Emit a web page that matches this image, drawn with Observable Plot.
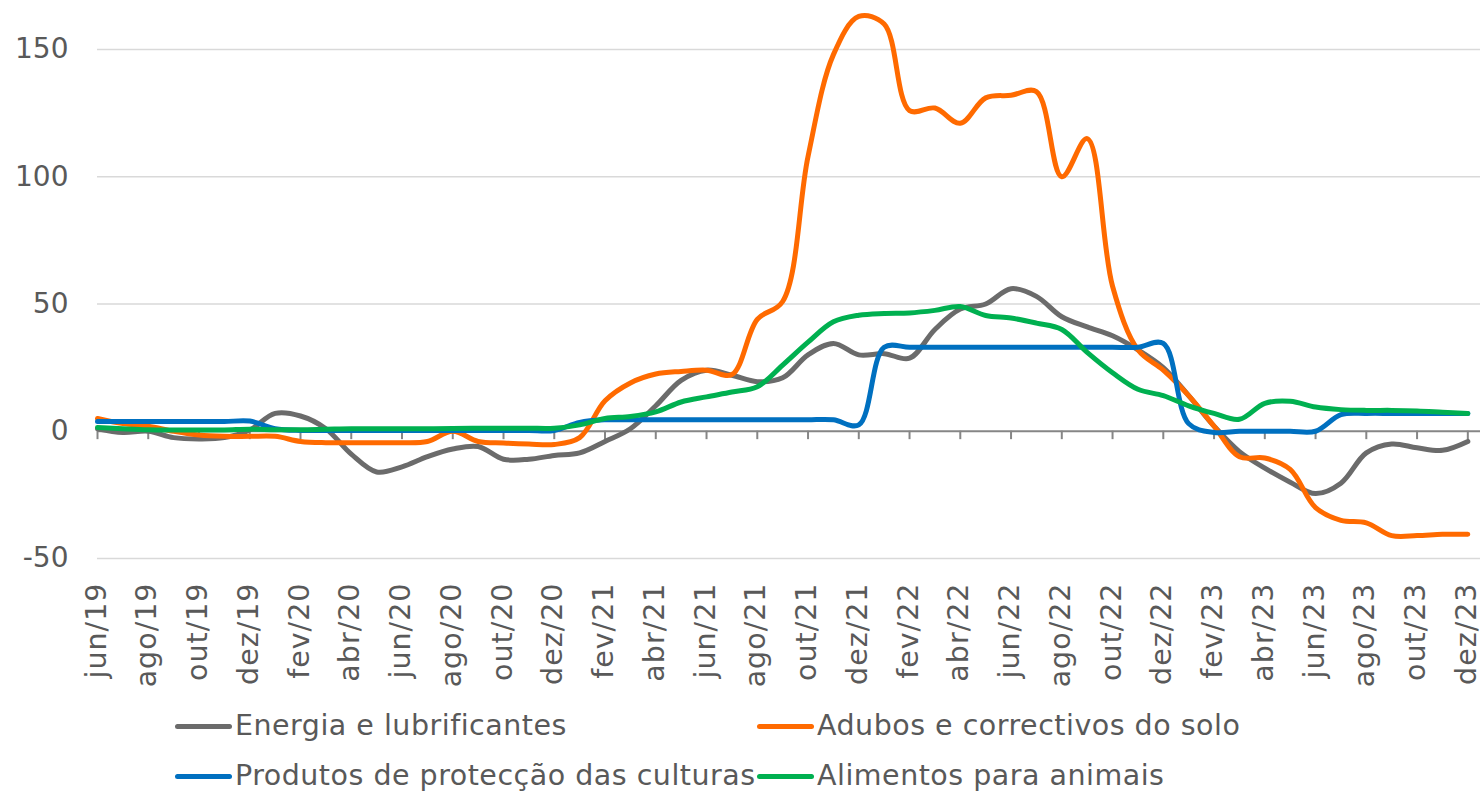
<!DOCTYPE html>
<html><head><meta charset="utf-8">
<script src="https://cdn.jsdelivr.net/npm/d3@7"></script>
<script src="https://cdn.jsdelivr.net/npm/@observablehq/plot@0.6"></script>
<style>
body{margin:0;background:#fff;}
#wrap{position:relative;width:1482px;height:793px;font-family:"DejaVu Sans",Verdana,sans-serif;color:#595959;overflow:hidden;}
#wrap svg{position:absolute;left:0;top:0;}
.leg{position:absolute;display:flex;align-items:center;font-size:28.5px;letter-spacing:0.5px;line-height:34px;white-space:nowrap;}
.sw{width:57px;height:5px;border-radius:3px;margin-right:3px;}
</style></head><body><div id="wrap"></div>
<script>
const months = ["jun/19","jul/19","ago/19","set/19","out/19","nov/19","dez/19",
  "jan/20","fev/20","mar/20","abr/20","mai/20","jun/20","jul/20","ago/20","set/20","out/20","nov/20","dez/20",
  "jan/21","fev/21","mar/21","abr/21","mai/21","jun/21","jul/21","ago/21","set/21","out/21","nov/21","dez/21",
  "jan/22","fev/22","mar/22","abr/22","mai/22","jun/22","jul/22","ago/22","set/22","out/22","nov/22","dez/22",
  "jan/23","fev/23","mar/23","abr/23","mai/23","jun/23","jul/23","ago/23","set/23","out/23","nov/23","dez/23"];
const tickLabels = months.filter((m, i) => i % 2 === 0);
const yTicks = [-50, 0, 50, 100, 150];

const energia = [1, -0.5, 0, -2.5, -3, -2.5, 0.5, 7, 6, 1, -9, -16, -14, -10, -7, -6, -11, -11, -9.5, -8.5,
  -4, 1, 10, 20, 24, 22, 19.5, 21, 30, 34.5, 30, 30.5, 28.7, 40, 48, 50, 56, 53, 45, 41,
  37.5, 32, 25, 14, 2, -8, -14.5, -20, -24.5, -20.4, -8.5, -5, -6.5, -7.5, -4];
const adubos = [5, 3, 2, 0, -1.5, -2, -2, -2, -4, -4.5, -4.5, -4.5, -4.5, -4, 0, -4, -4.6, -5, -5.2, -2.5,
  12, 19, 22.5, 23.5, 24, 22.3, 44, 51, 108, 148, 163, 160, 126, 127, 121, 131, 132, 133.5, 100, 115,
  57, 32, 24, 14, 2, -10, -10.5, -15, -30, -35, -36, -41, -41, -40.5, -40.5];
const produtos = [3.8, 3.8, 3.8, 3.8, 3.8, 3.8, 4, 1, 0.3, 0.3, 0.3, 0.3, 0.3, 0.3, 0.3, 0.3, 0.3, 0.3, 0.3, 3.5,
  4.5, 4.5, 4.5, 4.5, 4.5, 4.5, 4.5, 4.5, 4.5, 4.5, 2.5, 33, 33, 33, 33, 33, 33, 33, 33, 33,
  33, 33, 34.5, 3, -0.5, 0, 0, 0, 0, 6.5, 7, 7, 7, 7, 7];
const alimentos = [1.5, 1, 0.6, 0.5, 0.5, 0.5, 0.8, 0.6, 0.6, 0.8, 1, 1, 1, 1, 1.1, 1.2, 1.2, 1.2, 1.2, 2.5,
  5, 5.8, 7.6, 11.5, 13.5, 15.4, 17.5, 26, 35, 43, 45.6, 46.3, 46.5, 47.5, 49, 45.5, 44.5, 42.5, 40, 31,
  23, 16.5, 14, 10, 7, 4.7, 11, 11.8, 9.5, 8.5, 8.2, 8.2, 8, 7.5, 7];

const seriesNames = ["Energia e lubrificantes", "Adubos e correctivos do solo", "Produtos de protecção das culturas", "Alimentos para animais"];
const seriesValues = [energia, adubos, produtos, alimentos];
const seriesColors = ["#6b6b6b", "#ff6a00", "#0070c0", "#00b050"];

const tickIdx = tickLabels.map((_, k) => 2 * k);

const lineMarks = seriesValues.map((vals, s) =>
  Plot.line(vals.map((v, i) => ({i, v})), {
    x: "i", y: "v", stroke: seriesColors[s], strokeWidth: 5,
    curve: "catmull-rom", strokeLinecap: "round", strokeLinejoin: "round"
  }));

const chart = Plot.plot({
  width: 1482, height: 700,
  marginLeft: 97, marginRight: 2, marginTop: 5, marginBottom: 142,
  style: {fontFamily: "DejaVu Sans, Verdana, sans-serif", fontSize: "28px", color: "#595959", background: "transparent"},
  x: {domain: [0, 54.5], axis: null},
  y: {domain: [-50, 167.3], axis: null},
  marks: [
    Plot.ruleY(yTicks.filter(t => t !== 0), {stroke: "#d9d9d9", strokeWidth: 1.5}),
    Plot.axisY({ticks: yTicks, tickFormat: d => String(d), tickSize: 0, tickPadding: 29, fontSize: 28, label: null}),
    Plot.axisX({ticks: tickIdx, tickFormat: i => tickLabels[i / 2], tickSize: 0, tickRotate: -90,
      tickPadding: 24, fontSize: 28.5, dx: -1, anchor: "bottom", label: null}),
    Plot.ruleY([0], {stroke: "#868686", strokeWidth: 2}),
    Plot.ruleX(tickIdx, {y1: 0, y2: -3.3, stroke: "#868686", strokeWidth: 2}),
    ...lineMarks
  ]
});

const wrap = document.getElementById("wrap");
wrap.appendChild(chart);
chart.querySelectorAll("text").forEach(t => {
  if (t.getAttribute("transform") && t.getAttribute("transform").includes("rotate")) t.style.letterSpacing = "1px";
});
chart.querySelectorAll("g[aria-label='x-axis tick label'] text").forEach(t => t.style.letterSpacing = "1px");

const legPos = [[175, 709], [757, 709], [175, 759], [757, 759]];
seriesNames.forEach((name, s) => {
  const d = document.createElement("div");
  d.className = "leg";
  d.style.left = legPos[s][0] + "px";
  d.style.top = legPos[s][1] + "px";
  const sw = document.createElement("span");
  sw.className = "sw";
  sw.style.background = seriesColors[s];
  const t = document.createElement("span");
  t.textContent = name;
  d.appendChild(sw); d.appendChild(t);
  wrap.appendChild(d);
});
</script></body></html>
